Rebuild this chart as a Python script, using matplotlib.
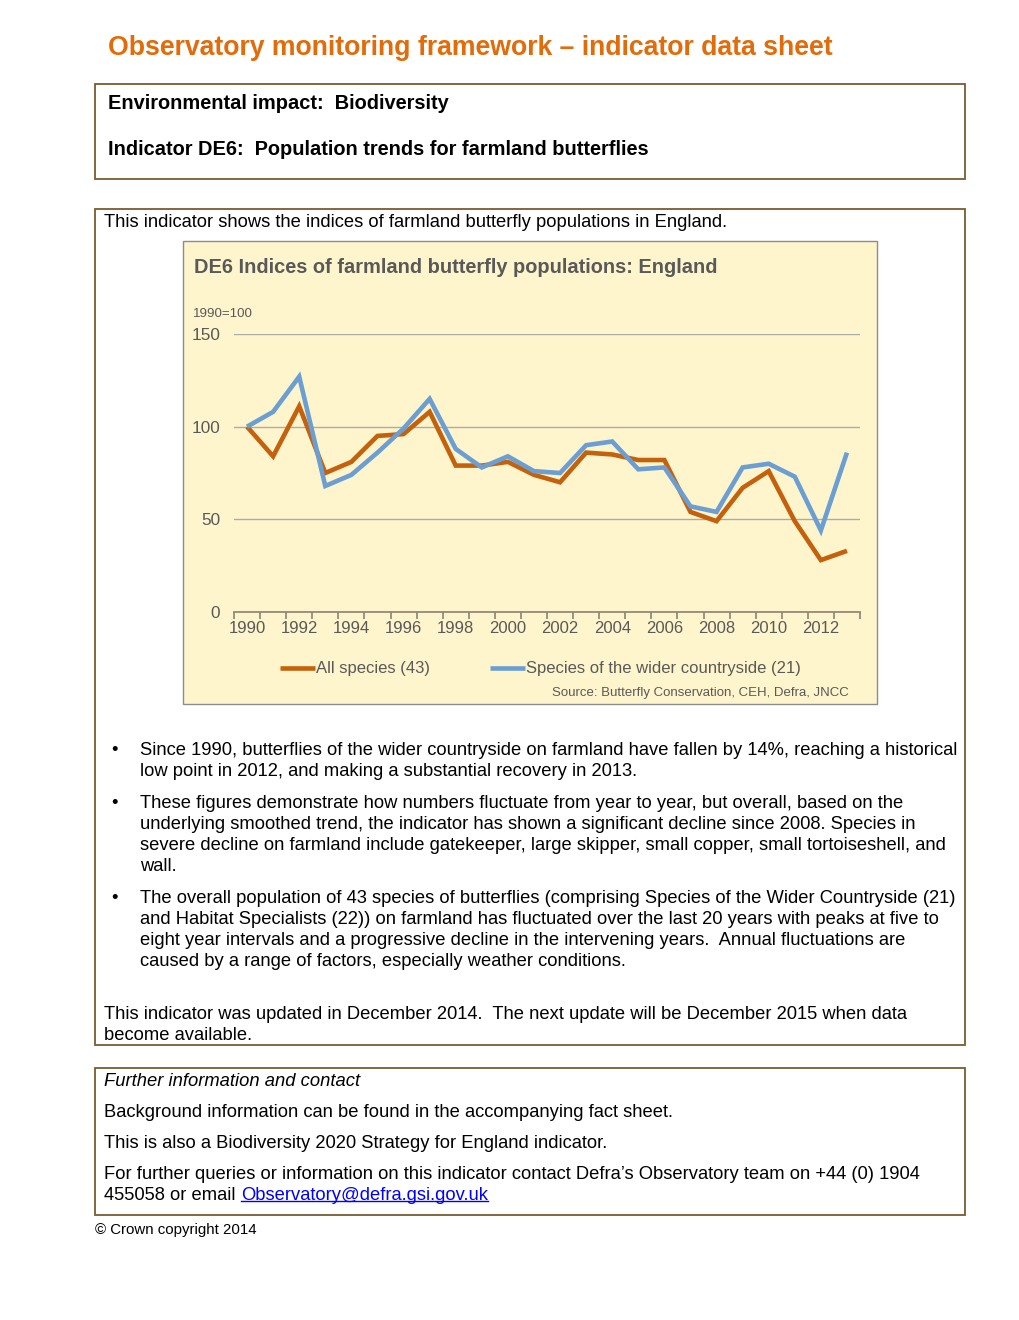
import matplotlib
matplotlib.use('Agg')
import matplotlib.pyplot as plt
from matplotlib.patches import Rectangle

plt.rcParams['font.family'] = ['Liberation Sans', 'DejaVu Sans']

# data (index, 1990 = 100)
years = list(range(1990, 2014))
all_species = [100, 84, 111, 75, 81, 95, 96, 108, 79, 79, 81, 74, 70, 86,
               85, 82, 82, 54, 49, 67, 76, 49, 28, 33]
wider_countryside = [100, 108, 127, 68, 74, 86, 99, 115, 88, 78, 84, 76, 75, 90,
                     92, 77, 78, 57, 54, 78, 80, 73, 44, 86]
y_ticks = [0, 50, 100, 150]
x_labels = list(range(1990, 2013, 2))

W, H = 1020, 1320
ORANGE = '#C4610C'
BLUE = '#6B9ED2'
TEXT_GREY = '#595959'
BOX = '#7A5A30'
BODY = 13.2

fig = plt.figure(figsize=(W / 100, H / 100), dpi=100)

# page layer in pixel coordinates
bg = fig.add_axes([0, 0, 1, 1])
bg.set_xlim(0, W)
bg.set_ylim(H, 0)
bg.axis('off')


def box(x0, y0, x1, y1, **kw):
    bg.add_patch(Rectangle((x0, y0), x1 - x0, y1 - y0, fill=kw.get('fill', False),
                           facecolor=kw.get('fc', 'none'), edgecolor=kw.get('ec', BOX),
                           lw=kw.get('lw', 1.3)))


def line(x, y, s, **kw):
    # y is the middle of the capitals; place on a baseline so rows space evenly
    size = kw.pop('size', BODY)
    base = y + 0.36 * size * 100 / 72 - 1
    return bg.text(x, base, s, va='baseline', ha=kw.pop('ha', 'left'),
                   fontsize=size, **kw)


line(108, 46, 'Observatory monitoring framework \u2013 indicator data sheet',
     size=19.2, weight='bold', color='#E26B0A')

box(95, 84, 965, 179)
line(108, 103, 'Environmental impact:  Biodiversity', weight='bold', size=14.4)
line(108, 149, 'Indicator DE6:  Population trends for farmland butterflies', weight='bold', size=14.4)

box(95, 209, 965, 1045)
line(104, 221, 'This indicator shows the indices of farmland butterfly populations in England.')

# chart panel
box(183, 241, 877, 704, fill=True, fc='#FFF5CC', ec='#8C8C8C', lw=1)
line(194, 267, 'DE6 Indices of farmland butterfly populations: England',
     size=14.4, weight='bold', color=TEXT_GREY)
line(193, 313, '1990=100', size=9.6, color=TEXT_GREY)
line(849, 692, 'Source: Butterfly Conservation, CEH, Defra, JNCC',
     size=9.5, color=TEXT_GREY, ha='right')

ax = fig.add_axes([234 / W, 1 - 612 / H, (860 - 234) / W, (612 - 334) / H])
ax.patch.set_alpha(0)
ax.plot(years, all_species, color=ORANGE, lw=3.3, label='All species (43)',
        solid_joinstyle='miter', solid_capstyle='butt')
ax.plot(years, wider_countryside, color=BLUE, lw=3.3,
        label='Species of the wider countryside (21)',
        solid_joinstyle='miter', solid_capstyle='butt')
ax.set_xlim(1989.5, 2013.5)
ax.set_ylim(0, 150)
ax.set_yticks(y_ticks)
ax.set_yticklabels([str(v) for v in y_ticks], fontsize=12.4, color=TEXT_GREY)
ax.tick_params(axis='y', length=0, pad=10)
ax.grid(axis='y', color='#ABABAB', lw=1)
ax.set_xticks([y + 0.5 for y in range(1989, 2014)], minor=False)
ax.set_xticklabels([])
ax.set_xticks(x_labels, minor=True)
ax.set_xticklabels([str(y) for y in x_labels], minor=True, fontsize=12, color=TEXT_GREY)
ax.tick_params(axis='x', which='major', length=5, color='#8C8272', width=1.2, direction='out')
ax.tick_params(axis='x', which='minor', length=0, pad=6.5)
for s in ['top', 'right', 'left']:
    ax.spines[s].set_visible(False)
ax.spines['bottom'].set_color('#8C8272')
ax.spines['bottom'].set_linewidth(1.2)
ax.set_axisbelow(True)
ax.legend(loc='center', bbox_to_anchor=(0.49, -0.205), ncol=2, frameon=False,
          fontsize=12, handlelength=2.1, handletextpad=0.05, columnspacing=3.6,
          labelcolor=TEXT_GREY)

# bullet points
bullets = [
    ['Since 1990, butterflies of the wider countryside on farmland have fallen by 14%, reaching a historical',
     'low point in 2012, and making a substantial recovery in 2013.'],
    ['These figures demonstrate how numbers fluctuate from year to year, but overall, based on the',
     'underlying smoothed trend, the indicator has shown a significant decline since 2008. Species in',
     'severe decline on farmland include gatekeeper, large skipper, small copper, small tortoiseshell, and',
     'wall.'],
    ['The overall population of 43 species of butterflies (comprising Species of the Wider Countryside (21)',
     'and Habitat Specialists (22)) on farmland has fluctuated over the last 20 years with peaks at five to',
     'eight year intervals and a progressive decline in the intervening years.  Annual fluctuations are',
     'caused by a range of factors, especially weather conditions.'],
]
y = 749
for para in bullets:
    line(115, y, '\u2022', ha='center')
    for txt in para:
        line(140, y, txt)
        y += 21
    y += 11

line(104, 1013, 'This indicator was updated in December 2014.  The next update will be December 2015 when data')
line(104, 1034, 'become available.')

box(95, 1068, 965, 1215)
line(104, 1080, 'Further information and contact', style='italic')
line(104, 1111, 'Background information can be found in the accompanying fact sheet.')
line(104, 1142, 'This is also a Biodiversity 2020 Strategy for England indicator.')
line(104, 1173, 'For further queries or information on this indicator contact Defra\u2019s Observatory team on +44 (0) 1904')
lead = line(104, 1194, '455058 or email ')

# put the link straight after the lead-in text
r = fig.canvas.get_renderer()
x_link = bg.transData.inverted().transform(lead.get_window_extent(r))[1][0]
link = line(x_link, 1194, 'Observatory@defra.gsi.gov.uk', color='#0000FF')
x_end = bg.transData.inverted().transform(link.get_window_extent(r))[1][0]
bg.plot([x_link, x_end], [1201, 1201], color='#0000FF', lw=1)
line(95, 1230, '\u00a9 Crown copyright 2014', size=10.8)

fig.savefig('out.png', dpi=100, facecolor='white')
